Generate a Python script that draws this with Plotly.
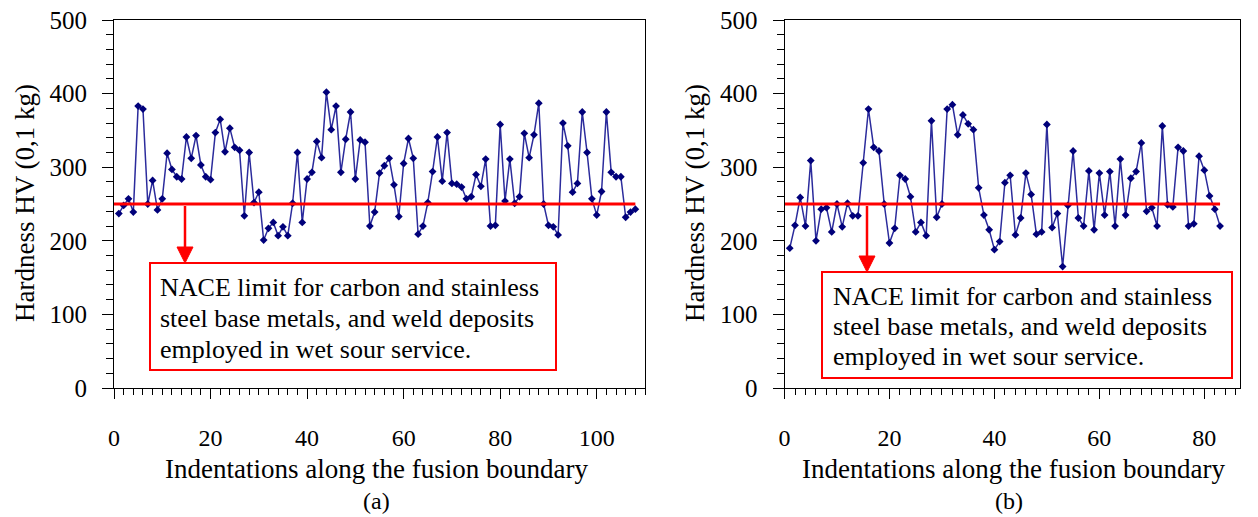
import plotly.graph_objects as go

# ---------------- data ----------------
hardness_a = [237, 248, 257, 239, 383, 379, 250, 282, 242, 257,
              319, 297, 287, 284, 341, 312, 343, 303, 287, 283,
              347, 365, 321, 353, 327, 323, 234, 320, 252, 266,
              201, 217, 225, 207, 219, 207, 251, 320, 225, 284,
              293, 335, 313, 402, 351, 383, 293, 338, 375, 284,
              337, 334, 220, 239, 292, 302, 312, 276, 233, 305,
              339, 312, 209, 220, 252, 294, 341, 281, 347, 278,
              277, 273, 257, 260, 290, 274, 311, 220, 221, 358,
              254, 311, 251, 260, 346, 313, 344, 387, 250, 221,
              219, 208, 360, 329, 266, 278, 375, 320, 257, 235,
              267, 375, 293, 287, 287, 232, 239, 243]

hardness_b = [190, 221, 259, 220, 309, 200, 243, 245, 212, 250,
              219, 251, 234, 234, 306, 379, 327, 322, 250, 197,
              217, 289, 284, 260, 212, 225, 207, 363, 232, 250,
              379, 385, 344, 371, 359, 351, 272, 235, 215, 188,
              199, 279, 289, 208, 231, 292, 263, 209, 212, 358,
              218, 237, 165, 248, 322, 231, 220, 295, 215, 292,
              235, 294, 220, 311, 235, 285, 294, 333, 240, 245,
              220, 356, 249, 246, 327, 322, 220, 223, 315, 296,
              261, 243, 220]

index_a = list(range(1, len(hardness_a) + 1))
index_b = list(range(1, len(hardness_b) + 1))

NACE_LIMIT = 250
x_range_a = [0, 110]
x_range_b = [0, 86.8]
y_range = [0, 500]

y_title = "Hardness HV (0,1 kg)"
x_title = "Indentations along the fusion boundary"
note_lines = ["NACE limit for carbon and stainless",
              "steel base metals, and weld deposits",
              "employed in wet sour service."]
captions = ["(a)", "(b)"]

# ---------------- layout helpers ----------------
W, H = 1258, 517
def px(x):
    return x / W
def py(y):
    return 1 - y / H

SERIF = "Liberation Serif"
LINE_COL = "#2b2b9c"
MARK_COL = "#00007a"
RED = "#ff0000"

fig = go.Figure()

panels = [
    dict(x=index_a, y=hardness_a, xa="x", ya="y"),
    dict(x=index_b, y=hardness_b, xa="x2", ya="y2"),
]
for p in panels:
    fig.add_trace(go.Scatter(
        x=p["x"], y=p["y"], mode="lines+markers",
        line=dict(color=LINE_COL, width=1.5),
        marker=dict(symbol="diamond", size=6, color=MARK_COL),
        xaxis=p["xa"], yaxis=p["ya"], showlegend=False, hoverinfo="skip"))
    fig.add_trace(go.Scatter(
        x=[0, len(p["x"])], y=[NACE_LIMIT, NACE_LIMIT], mode="lines",
        line=dict(color=RED, width=3),
        xaxis=p["xa"], yaxis=p["ya"], showlegend=False, hoverinfo="skip"))

xtickfont = dict(family=SERIF, size=24, color="black")
ytickfont = dict(family=SERIF, size=25, color="black")

def xaxis(domain, rng):
    return dict(domain=domain, range=rng, showline=True, linecolor="black",
                linewidth=1, mirror=True, ticks="outside", ticklen=10,
                tickcolor="black", tickwidth=1, showgrid=False, zeroline=False,
                automargin=False,
                tick0=0, dtick=20, tickfont=xtickfont, ticklabelstandoff=18,
                minor=dict(tick0=0, dtick=2, ticks="outside", ticklen=6,
                           tickcolor="black", showgrid=False))

def yaxis(domain, anchor):
    return dict(domain=domain, range=y_range, anchor=anchor, showline=True,
                linecolor="black", linewidth=1, mirror=True, ticks="outside",
                ticklen=11, tickcolor="black", tickwidth=1, showgrid=False,
                zeroline=False, tick0=0, dtick=100, tickfont=ytickfont,
                ticklabelstandoff=10, automargin=False,
                minor=dict(tick0=0, dtick=20, ticks="outside", ticklen=7,
                           tickcolor="black", showgrid=False))

ydom = [py(388), py(20)]
fig.update_layout(
    width=W, height=H, autosize=False, margin=dict(l=0, r=0, t=0, b=0, pad=0),
    paper_bgcolor="white", plot_bgcolor="white",
    xaxis=dict(xaxis([px(114), px(645)], x_range_a), anchor="y"),
    yaxis=yaxis(ydom, "x"),
    xaxis2=dict(xaxis([px(784.5), px(1240)], x_range_b), anchor="y2"),
    yaxis2=yaxis(ydom, "x2"),
)

annotations = []
shapes = []
title_font = dict(family=SERIF, size=27, color="black")
note_font = dict(family=SERIF, size=26, color="black")

# per-panel layout positions (pixels)
geo = [
    dict(ytx=25, xtx=376, cap=376, box=(150, 263, 556, 370), textx=158,
         ly=(287, 318, 349), arrow_x=185, arrow_top=206, arrow_tip=263),
    dict(ytx=695, xtx=1013, cap=1009, box=(822, 272, 1232, 378), textx=831,
         ly=(296, 326, 356), arrow_x=867, arrow_top=206, arrow_tip=272),
]
for g, cap in zip(geo, captions):
    annotations.append(dict(text=y_title, x=px(g["ytx"]), y=py(203), xref="paper",
                            yref="paper", textangle=-90, showarrow=False,
                            font=title_font, xanchor="center", yanchor="middle"))
    annotations.append(dict(text=x_title, x=px(g["xtx"]), y=py(469), xref="paper",
                            yref="paper", showarrow=False, font=title_font,
                            xanchor="center", yanchor="middle"))
    annotations.append(dict(text=cap, x=px(g["cap"]), y=py(501), xref="paper",
                            yref="paper", showarrow=False,
                            font=dict(family=SERIF, size=24, color="black"),
                            xanchor="center", yanchor="middle"))
    for line, ly in zip(note_lines, g["ly"]):
        annotations.append(dict(text=line, x=px(g["textx"]), y=py(ly), xref="paper",
                                yref="paper", showarrow=False, font=note_font,
                                xanchor="left", yanchor="middle"))
    x0, y0, x1, y1 = g["box"]
    shapes.append(dict(type="rect", xref="paper", yref="paper",
                       x0=px(x0), x1=px(x1), y0=py(y1), y1=py(y0),
                       line=dict(color=RED, width=2), fillcolor="rgba(0,0,0,0)"))
    ax = g["arrow_x"]
    tip = g["arrow_tip"]
    shapes.append(dict(type="line", xref="paper", yref="paper",
                       x0=px(ax), x1=px(ax), y0=py(g["arrow_top"]), y1=py(tip - 12),
                       line=dict(color=RED, width=2.5)))
    path = (f"M {px(ax-8)},{py(tip-16)} L {px(ax+8)},{py(tip-16)} "
            f"L {px(ax)},{py(tip)} Z")
    shapes.append(dict(type="path", xref="paper", yref="paper", path=path,
                       fillcolor=RED, line=dict(color=RED, width=1)))

fig.update_layout(annotations=annotations, shapes=shapes)
fig.write_html("out.html")
